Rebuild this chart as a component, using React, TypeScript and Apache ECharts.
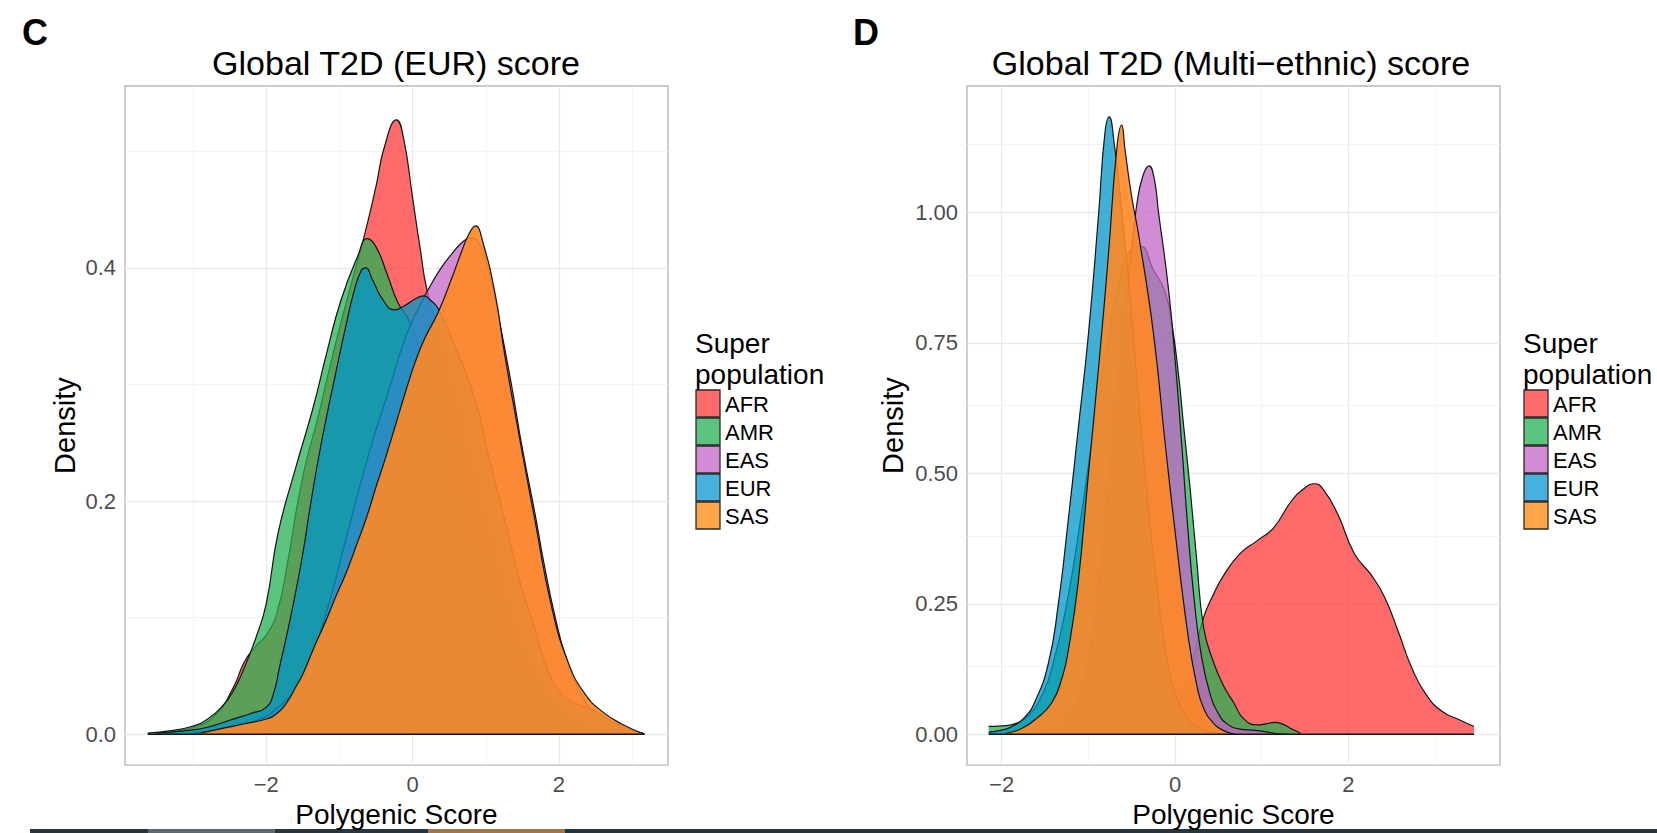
import React, { useEffect, useRef } from "react";
import * as echarts from "echarts";

const FONT = '"Liberation Sans", Arial, Helvetica, sans-serif';

const populations = ["AFR", "AMR", "EAS", "EUR", "SAS"];
const fillColors = ["#FF3838", "#24B154", "#C364C7", "#0096C8", "#FF8825"];
const fillOpacity = [0.75, 0.75, 0.75, 0.75, 0.9];
const keyColors = ["#FF6A6A", "#5BC57F", "#D28BD5", "#47B0DD", "#FFA54A"];

const panelTitles = ["Global T2D (EUR) score", "Global T2D (Multi\u2212ethnic) score"];
const panelLetters = ["C", "D"];
const legendTitle = ["Super", "population"];
const xAxisTitle = "Polygenic Score";
const yAxisTitle = "Density";

// tick labels
const eurXTicks = [-2, 0, 2];
const eurYTicks = [0, 0.2, 0.4];
const multiXTicks = [-2, 0, 2];
const multiYTicks = [0, 0.25, 0.5, 0.75, 1.0];
// grid lines (major + minor)
const eurXGrid = [-3, -2, -1, 0, 1, 2, 3];
const eurYGrid = [0, 0.1, 0.2, 0.3, 0.4, 0.5];
const multiXGrid = [-2, -1, 0, 1, 2, 3];
const multiYGrid = [0, 0.125, 0.25, 0.375, 0.5, 0.625, 0.75, 0.875, 1.0, 1.125];

// ---- Panel C: Global T2D (EUR) score, densities ----
const eurAFR = [
  [-3.4, 0.001], [-3.0, 0.006], [-2.7, 0.016], [-2.45, 0.04], [-2.3, 0.062], [-2.15, 0.075],
  [-2.0, 0.085], [-1.85, 0.105], [-1.7, 0.15], [-1.58, 0.195], [-1.45, 0.235], [-1.3, 0.27],
  [-1.15, 0.31], [-0.95, 0.36], [-0.8, 0.395], [-0.65, 0.43], [-0.5, 0.47], [-0.38, 0.505],
  [-0.22, 0.527], [-0.12, 0.51], [0.0, 0.46], [0.1, 0.418], [0.2, 0.38], [0.35, 0.35],
  [0.5, 0.32], [0.7, 0.27], [0.9, 0.22], [1.1, 0.17], [1.3, 0.125], [1.5, 0.085], [1.7, 0.055],
  [1.9, 0.032], [2.1, 0.018], [2.4, 0.007], [2.7, 0.002], [3.0, 0.0],
];
const eurAMR = [
  [-3.62, 0.001], [-3.3, 0.003], [-3.0, 0.007], [-2.8, 0.013], [-2.6, 0.024], [-2.45, 0.037],
  [-2.3, 0.057], [-2.14, 0.083], [-2.0, 0.112], [-1.84, 0.172], [-1.6, 0.228], [-1.36, 0.28],
  [-1.17, 0.328], [-0.98, 0.372], [-0.75, 0.41], [-0.62, 0.425], [-0.5, 0.418], [-0.35, 0.395],
  [-0.2, 0.37], [-0.05, 0.355], [0.1, 0.33], [0.3, 0.3], [0.5, 0.26], [0.7, 0.22], [0.9, 0.175],
  [1.1, 0.135], [1.3, 0.1], [1.5, 0.07], [1.7, 0.045], [1.9, 0.027], [2.1, 0.015], [2.4, 0.006],
  [2.7, 0.002], [3.0, 0.0],
];
const eurEAS = [
  [-3.0, 0.001], [-2.6, 0.004], [-2.2, 0.01], [-1.8, 0.025], [-1.5, 0.05], [-1.2, 0.1],
  [-0.9, 0.17], [-0.6, 0.24], [-0.3, 0.3], [-0.1, 0.34], [0.1, 0.368], [0.21, 0.381],
  [0.39, 0.4], [0.55, 0.413], [0.68, 0.422], [0.8, 0.426], [0.92, 0.42], [1.05, 0.395],
  [1.2, 0.35], [1.35, 0.3], [1.5, 0.245], [1.67, 0.19], [1.8, 0.145], [1.95, 0.1], [2.1, 0.065],
  [2.3, 0.035], [2.5, 0.017], [2.7, 0.007], [2.9, 0.002], [3.1, 0.0],
];
const eurEUR = [
  [-3.5, 0.001], [-3.1, 0.003], [-2.8, 0.006], [-2.5, 0.012], [-2.2, 0.018], [-2.0, 0.023],
  [-1.9, 0.035], [-1.82, 0.057], [-1.72, 0.085], [-1.62, 0.115], [-1.5, 0.155], [-1.4, 0.195],
  [-1.3, 0.232], [-1.2, 0.265], [-1.05, 0.31], [-0.93, 0.345], [-0.8, 0.38], [-0.7, 0.398],
  [-0.64, 0.4], [-0.55, 0.39], [-0.4, 0.372], [-0.25, 0.364], [-0.1, 0.368], [0.05, 0.374],
  [0.15, 0.376], [0.25, 0.372], [0.35, 0.365], [0.6, 0.33], [0.85, 0.288], [1.05, 0.236],
  [1.26, 0.184], [1.45, 0.135], [1.67, 0.09], [1.85, 0.055], [2.0, 0.037], [2.2, 0.027],
  [2.41, 0.022], [2.55, 0.018], [2.75, 0.01], [2.95, 0.004], [3.15, 0.001],
];
const eurSAS = [
  [-2.9, 0.001], [-2.6, 0.005], [-2.3, 0.009], [-2.0, 0.013], [-1.85, 0.018], [-1.72, 0.027],
  [-1.6, 0.04], [-1.49, 0.053], [-1.35, 0.074], [-1.18, 0.098], [-1.05, 0.118], [-0.91, 0.138],
  [-0.78, 0.16], [-0.64, 0.184], [-0.5, 0.212], [-0.36, 0.239], [-0.22, 0.268], [-0.09, 0.295],
  [0.04, 0.32], [0.17, 0.34], [0.35, 0.362], [0.54, 0.392], [0.67, 0.414], [0.77, 0.429],
  [0.86, 0.436], [0.96, 0.422], [1.13, 0.377], [1.26, 0.325], [1.45, 0.258], [1.67, 0.184],
  [1.9, 0.109], [2.13, 0.061], [2.35, 0.035], [2.58, 0.02], [2.85, 0.009], [3.17, 0.0],
];
const eurRange = [-3.62, 3.17];

// ---- Panel D: Global T2D (Multi-ethnic) score ----
const multiAFR = [
  [-1.2, 0.0], [-0.8, 0.004], [-0.4, 0.015], [-0.1, 0.04], [0.1, 0.09], [0.2, 0.14],
  [0.33, 0.224], [0.45, 0.27], [0.56, 0.304], [0.75, 0.346], [0.95, 0.371], [1.14, 0.396],
  [1.34, 0.446], [1.49, 0.471], [1.61, 0.48], [1.72, 0.467], [1.88, 0.421], [2.07, 0.346],
  [2.27, 0.304], [2.42, 0.262], [2.58, 0.195], [2.73, 0.128], [2.89, 0.078], [3.08, 0.044],
  [3.28, 0.028], [3.45, 0.015],
];
const multiAMR = [
  [-2.15, 0.015], [-2.0, 0.016], [-1.85, 0.02], [-1.7, 0.035], [-1.55, 0.07], [-1.4, 0.14],
  [-1.25, 0.25], [-1.1, 0.4], [-0.95, 0.57], [-0.8, 0.73], [-0.65, 0.86], [-0.5, 0.93],
  [-0.4, 0.935], [-0.25, 0.89], [-0.12, 0.85], [-0.04, 0.79], [0.04, 0.69], [0.1, 0.59],
  [0.175, 0.47], [0.25, 0.335], [0.33, 0.205], [0.44, 0.14], [0.56, 0.093], [0.68, 0.06],
  [0.79, 0.03], [0.95, 0.018], [1.05, 0.02], [1.15, 0.023], [1.25, 0.019], [1.35, 0.01],
  [1.45, 0.002],
];
const multiEAS = [
  [-1.6, 0.002], [-1.4, 0.01], [-1.2, 0.04], [-1.05, 0.1], [-0.9, 0.25], [-0.75, 0.5],
  [-0.6, 0.78], [-0.5, 0.93], [-0.44, 1.016], [-0.37, 1.07], [-0.3, 1.089], [-0.24, 1.065],
  [-0.19, 1.0], [-0.08, 0.86], [0.0, 0.72], [0.08, 0.55], [0.15, 0.39], [0.22, 0.26],
  [0.3, 0.155], [0.4, 0.08], [0.5, 0.04], [0.6, 0.02], [0.75, 0.01], [0.9, 0.008],
  [1.0, 0.006], [1.15, 0.002], [1.3, 0.0],
];
const multiEUR = [
  [-2.15, 0.004], [-2.0, 0.008], [-1.88, 0.015], [-1.75, 0.03], [-1.62, 0.061], [-1.46, 0.137],
  [-1.35, 0.245], [-1.23, 0.413], [-1.12, 0.58], [-1.0, 0.765], [-0.88, 1.0], [-0.81, 1.15],
  [-0.76, 1.183], [-0.7, 1.13], [-0.6, 0.98], [-0.5, 0.8], [-0.4, 0.6], [-0.3, 0.42],
  [-0.2, 0.27], [-0.1, 0.15], [0.0, 0.08], [0.15, 0.03], [0.3, 0.01], [0.5, 0.002], [0.7, 0.0],
];
const multiSAS = [
  [-1.95, 0.002], [-1.77, 0.011], [-1.6, 0.03], [-1.42, 0.061], [-1.3, 0.11], [-1.23, 0.162],
  [-1.12, 0.287], [-1.0, 0.497], [-0.88, 0.706], [-0.77, 0.915], [-0.67, 1.125], [-0.615, 1.167],
  [-0.577, 1.12], [-0.5, 1.03], [-0.42, 0.957], [-0.25, 0.77], [-0.115, 0.56], [0.0, 0.39],
  [0.15, 0.19], [0.25, 0.095], [0.33, 0.05], [0.45, 0.02], [0.55, 0.008], [0.68, 0.0],
];
const multiRange = [-2.15, 3.45];

const panels = [
  {
    grid: { left: 125, top: 86, width: 543, height: 685 },
    xMin: -3.93, xMax: 3.49, yMin: -0.0265, yMax: 0.556,
    xTicks: eurXTicks, yTicks: eurYTicks, yDigits: 1,
    xGrid: eurXGrid, yGrid: eurYGrid, xMajorStep: 2, yMajorStep: 0.2,
    series: [eurAFR, eurAMR, eurEAS, eurEUR, eurSAS], range: eurRange,
    titleX: 396, letterX: 22, legendX: 695, densityX: 65,
  },
  {
    grid: { left: 967, top: 86, width: 533, height: 685 },
    xMin: -2.4, xMax: 3.75, yMin: -0.059, yMax: 1.242,
    xTicks: multiXTicks, yTicks: multiYTicks, yDigits: 2,
    xGrid: multiXGrid, yGrid: multiYGrid, xMajorStep: 2, yMajorStep: 0.25,
    series: [multiAFR, multiAMR, multiEAS, multiEUR, multiSAS], range: multiRange,
    titleX: 1231, letterX: 853, legendX: 1523, densityX: 893,
  },
];

const isMajor = (v: number, step: number) => Math.abs(v / step - Math.round(v / step)) < 1e-6;
const fmtX = (v: number) => (v < 0 ? "\u2212" + Math.abs(v) : String(v));

export default function App() {
  const ref = useRef<HTMLDivElement>(null);
  useEffect(() => {
    if (!ref.current) return;
    const chart = echarts.init(ref.current, undefined, { renderer: "svg" });

    const grids: any[] = [];
    const xAxes: any[] = [];
    const yAxes: any[] = [];
    const series: any[] = [];
    const graphics: any[] = [];

    panels.forEach((p, pi) => {
      grids.push({
        ...p.grid,
        show: true,
        borderColor: "#b9b9b9",
        borderWidth: 1.4,
        backgroundColor: "#ffffff",
        containLabel: false,
      });
      xAxes.push({
        type: "value",
        gridIndex: pi,
        min: p.xMin,
        max: p.xMax,
        name: xAxisTitle,
        nameLocation: "middle",
        nameGap: 31,
        nameTextStyle: { fontFamily: FONT, fontSize: 28, color: "#000" },
        axisLine: { show: false },
        axisTick: {
          show: true, inside: false, length: 5, customValues: p.xTicks,
          lineStyle: { color: "#444", width: 1 },
        },
        axisLabel: {
          show: true, customValues: p.xTicks, margin: 8,
          formatter: (v: number) => fmtX(v),
          fontFamily: FONT, fontSize: 22, color: "#4d4d4d",
        },
        splitLine: { show: false },
      });
      yAxes.push({
        type: "value",
        gridIndex: pi,
        min: p.yMin,
        max: p.yMax,
        name: yAxisTitle,
        nameLocation: "middle",
        nameGap: p.grid.left - p.densityX - 14,
        nameTextStyle: { fontFamily: FONT, fontSize: 29, color: "#000" },
        axisLine: { show: false },
        axisTick: {
          show: true, inside: false, length: 5, customValues: p.yTicks,
          lineStyle: { color: "#444", width: 1 },
        },
        axisLabel: {
          show: true, customValues: p.yTicks, margin: 9,
          formatter: (v: number) => v.toFixed(p.yDigits),
          fontFamily: FONT, fontSize: 22, color: "#4d4d4d",
        },
        splitLine: { show: false },
      });

      // grid lines drawn through the axes' scales
      const lines: any[] = [];
      p.xGrid.forEach((v) => {
        const maj = isMajor(v, p.xMajorStep);
        lines.push({ xAxis: v, lineStyle: { color: maj ? "#e9e9e9" : "#f3f3f3", width: maj ? 1.3 : 0.9, type: "solid" } });
      });
      p.yGrid.forEach((v) => {
        const maj = isMajor(v, p.yMajorStep);
        lines.push({ yAxis: v, lineStyle: { color: maj ? "#e9e9e9" : "#f3f3f3", width: maj ? 1.3 : 0.9, type: "solid" } });
      });
      series.push({
        type: "line",
        name: "grid" + pi,
        xAxisIndex: pi,
        yAxisIndex: pi,
        data: [],
        z: 1,
        silent: true,
        markLine: {
          z: 1,
          zlevel: 0,
          silent: true,
          symbol: ["none", "none"],
          label: { show: false },
          emphasis: { disabled: true },
          data: lines,
        },
      });

      p.series.forEach((d, si) => {
        series.push({
          type: "line",
          name: populations[si],
          xAxisIndex: pi,
          yAxisIndex: pi,
          data: d,
          smooth: 0.5,
          symbol: "none",
          showSymbol: false,
          z: 3 + si,
          lineStyle: { color: "#141414", width: 1.2 },
          itemStyle: { color: keyColors[si] },
          areaStyle: { color: fillColors[si], opacity: fillOpacity[si] },
          emphasis: { disabled: true },
        });
      });
      // baseline outline of the densities
      series.push({
        type: "line",
        name: "base" + pi,
        xAxisIndex: pi,
        yAxisIndex: pi,
        data: [[p.range[0], 0], [p.range[1], 0]],
        symbol: "none",
        z: 9,
        lineStyle: { color: "#141414", width: 1.4 },
        emphasis: { disabled: true },
        silent: true,
      });

      // panel title and letter
      graphics.push({
        type: "text", x: p.titleX, y: 63,
        style: { text: panelTitles[pi], fontFamily: FONT, fontSize: 34, fill: "#000", align: "center", verticalAlign: "middle" },
      });
      graphics.push({
        type: "text", x: p.letterX, y: 32,
        style: { text: panelLetters[pi], fontFamily: FONT, fontSize: 36, fontWeight: "bold", fill: "#000", align: "left", verticalAlign: "middle" },
      });
      // legend
      graphics.push({
        type: "text", x: p.legendX, y: 343,
        style: { text: legendTitle[0], fontFamily: FONT, fontSize: 28, fill: "#000", align: "left", verticalAlign: "middle" },
      });
      graphics.push({
        type: "text", x: p.legendX, y: 374,
        style: { text: legendTitle[1], fontFamily: FONT, fontSize: 28, fill: "#000", align: "left", verticalAlign: "middle" },
      });
      populations.forEach((name, i) => {
        const y0 = 390 + 28 * i;
        graphics.push({
          type: "rect",
          shape: { x: p.legendX + 1, y: y0, width: 24, height: 27 },
          style: { fill: keyColors[i], stroke: "#2a2a2a", lineWidth: 1.3 },
        });
        graphics.push({
          type: "text", x: p.legendX + 30, y: y0 + 14,
          style: { text: name, fontFamily: FONT, fontSize: 22, fill: "#000", align: "left", verticalAlign: "middle" },
        });
      });
    });

    // dark strip along the bottom edge of the figure
    graphics.push({ type: "rect", shape: { x: 30, y: 829, width: 1627, height: 4 }, style: { fill: "#27353c" } });
    graphics.push({ type: "rect", shape: { x: 148, y: 829, width: 127, height: 4 }, style: { fill: "#5d696e" } });
    graphics.push({ type: "rect", shape: { x: 428, y: 829, width: 137, height: 4 }, style: { fill: "#a3754b" } });

    chart.setOption({
      animation: false,
      backgroundColor: "#ffffff",
      textStyle: { fontFamily: FONT },
      grid: grids,
      xAxis: xAxes,
      yAxis: yAxes,
      series,
      graphic: graphics,
    });
    return () => chart.dispose();
  }, []);
  return (
    <div
      ref={ref}
      style={{ position: "absolute", left: 0, top: 0, width: 1657, height: 833, background: "#fff" }}
    />
  );
}
